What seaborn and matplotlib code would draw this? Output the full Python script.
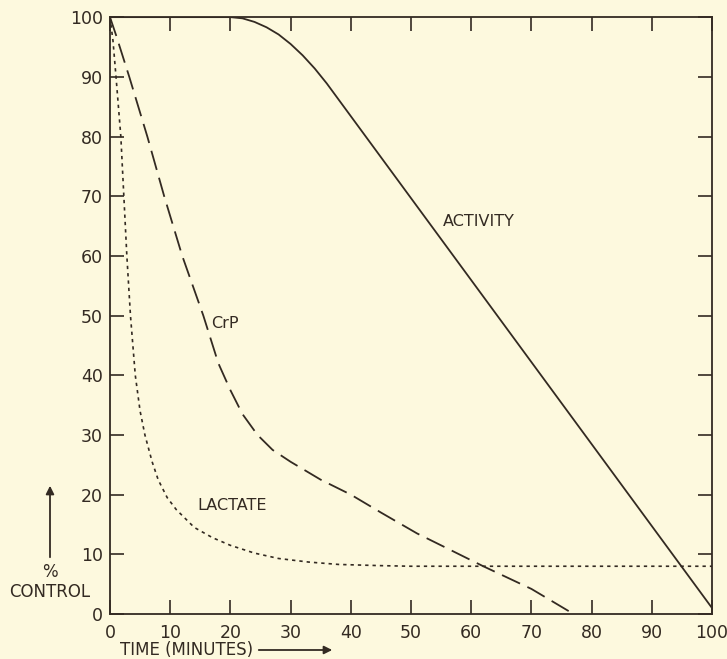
import numpy as np
import pandas as pd
import seaborn as sns
import matplotlib.pyplot as plt

# data (time in minutes, % of control)
activity_time = [0, 20, 22, 24, 26, 28, 30, 32, 34, 36, 100]
activity_pct = [100, 100, 99.8, 99.2, 98.3, 97.1, 95.5, 93.6, 91.4, 88.9, 1]

crp_time = [0, 1, 3.2, 6.2, 9, 12, 15.5, 18, 20, 22, 24.5, 27, 30, 35, 40, 45, 51, 56, 62, 70, 77]
crp_pct = [100, 97, 90, 80, 70, 60, 50, 42, 37.5, 33.5, 30, 27.5, 25.5, 22.5, 20, 17, 13.5, 11, 8, 4.2, 0]

lactate_time = [0, 0.5, 1, 1.8, 2.3, 2.8, 3.4, 4.2, 5, 5.8, 7, 8, 9.5, 11, 14, 17, 20, 24, 28, 33, 38, 45, 50, 100]
lactate_pct = [100, 96, 90, 80, 70, 60, 50, 40, 34, 30, 25.5, 22.5, 19.5, 17.5, 14.5, 12.8, 11.5, 10.2, 9.3, 8.7, 8.3, 8.1, 8, 8]

tick_values = list(range(0, 101, 10))

# =========================================
# STYLE
# =========================================

bg = "#fdf9de"
ink = "#332a22"

sns.set_style("ticks")
plt.rcParams['font.family'] = ['DejaVu Sans']
plt.rcParams['text.color'] = ink
plt.rcParams['axes.edgecolor'] = ink
plt.rcParams['xtick.color'] = ink
plt.rcParams['ytick.color'] = ink

fig = plt.figure(figsize=(7.27, 6.59), dpi=100, facecolor=bg)
ax = fig.add_axes([0.1513, 0.0683, 0.8281, 0.9057])
ax.set_facecolor(bg)

# =========================================
# CURVES
# =========================================

df_act = pd.DataFrame({'time': activity_time, 'pct': activity_pct})
df_crp = pd.DataFrame({'time': crp_time, 'pct': crp_pct})
df_lac = pd.DataFrame({'time': lactate_time, 'pct': lactate_pct})

sns.lineplot(data=df_act, x='time', y='pct', sort=False, ax=ax,
             color=ink, linewidth=1.3)
sns.lineplot(data=df_crp, x='time', y='pct', sort=False, ax=ax,
             color=ink, linewidth=1.3, linestyle=(0, (11, 4.5)))
sns.lineplot(data=df_lac, x='time', y='pct', sort=False, ax=ax,
             color=ink, linewidth=1.2, linestyle=(0, (2, 2.4)))

ax.text(61.3, 65.7, "ACTIVITY", ha='center', va='center', fontsize=11.5)
ax.text(19, 48.6, "CrP", ha='center', va='center', fontsize=11.5)
ax.text(20.3, 18.2, "LACTATE", ha='center', va='center', fontsize=11.5)

# =========================================
# AXES
# =========================================

ax.set_xlim(0, 100)
ax.set_ylim(0, 100)
ax.set_xticks(tick_values)
ax.set_yticks(tick_values)
ax.tick_params(direction='in', length=10, width=1.2, top=True, right=True,
               labelsize=12.5, pad=5)
ax.tick_params(axis='x', pad=7)
for sp in ax.spines.values():
    sp.set_linewidth(1.3)
ax.set_xlabel("")
ax.set_ylabel("")

# axis captions with arrows
fig.text(50 / 727, 1 - 572 / 659, "%", ha='center', va='center', fontsize=12)
fig.text(50 / 727, 1 - 592 / 659, "CONTROL", ha='center', va='center', fontsize=12)
fig.add_artist(plt.matplotlib.patches.FancyArrowPatch(
    (50 / 727, 1 - 560 / 659), (50 / 727, 1 - 483 / 659),
    transform=fig.transFigure, arrowstyle='-|>', mutation_scale=12,
    color=ink, linewidth=1.3))

fig.text(120 / 727, 1 - 650 / 659, "TIME (MINUTES)", ha='left', va='center', fontsize=12)
fig.add_artist(plt.matplotlib.patches.FancyArrowPatch(
    (256 / 727, 1 - 650 / 659), (335 / 727, 1 - 650 / 659),
    transform=fig.transFigure, arrowstyle='-|>', mutation_scale=12,
    color=ink, linewidth=1.3))

fig.savefig("out.png", dpi=100, facecolor=bg)
